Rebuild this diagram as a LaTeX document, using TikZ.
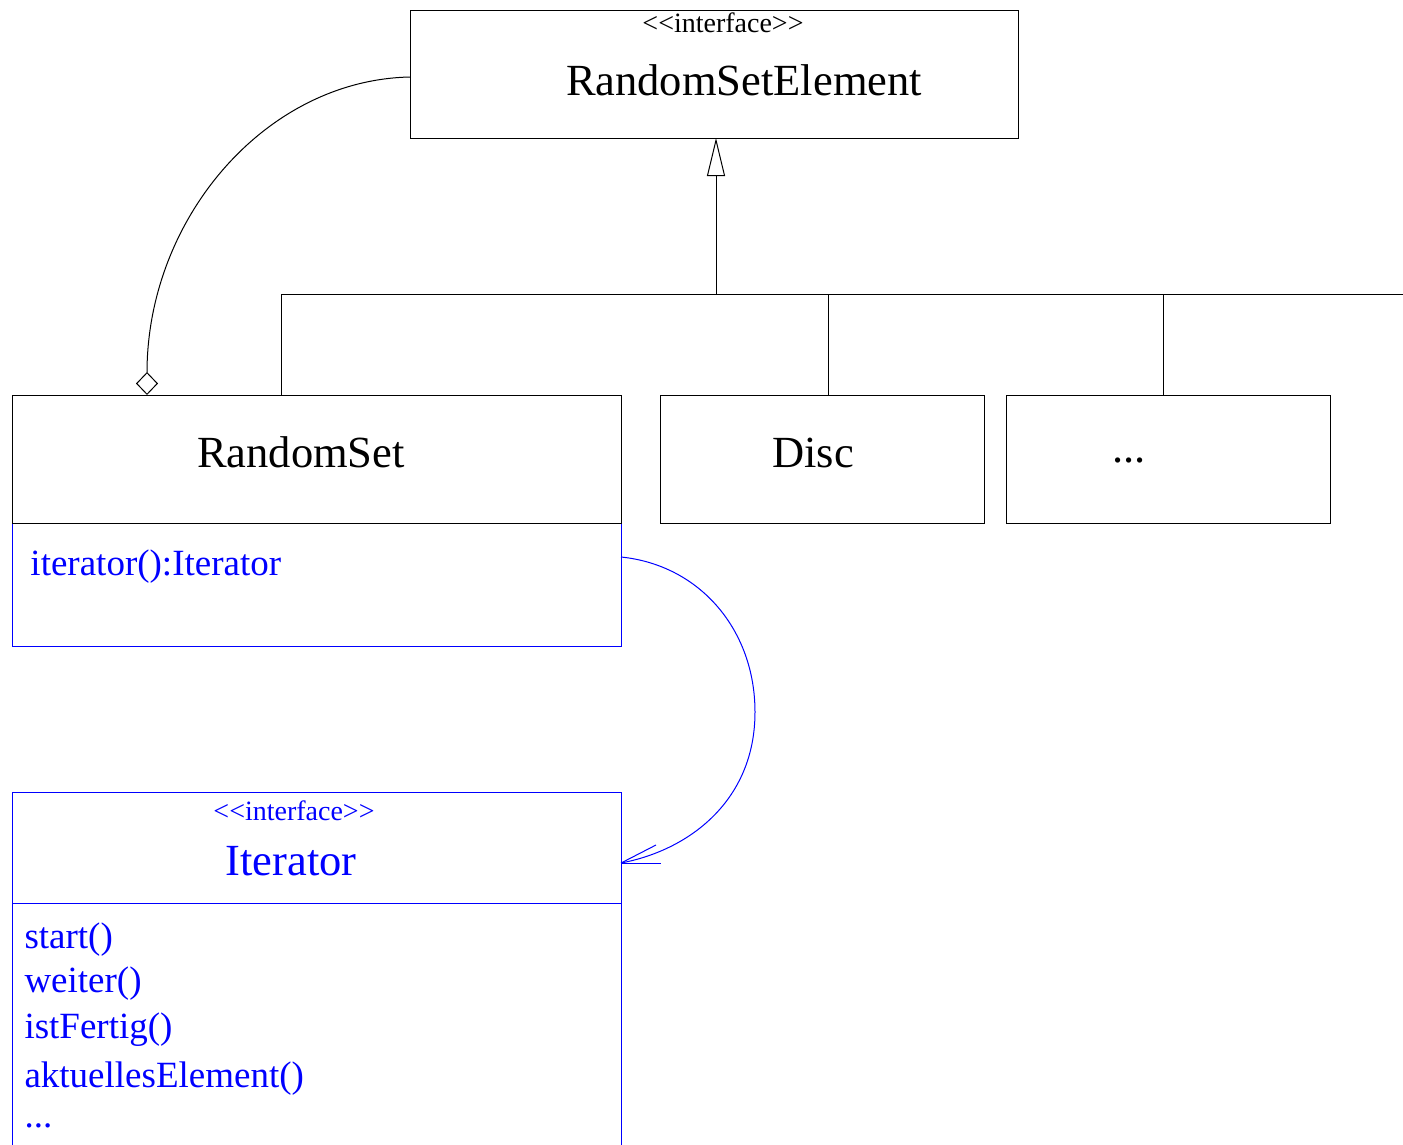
\documentclass[tikz,border=0pt]{standalone}
\usepackage{fontspec}
\setmainfont{Liberation Serif}
\usetikzlibrary{arrows.meta}
\definecolor{umlblue}{RGB}{0,0,255}
\begin{document}
\begin{tikzpicture}[x=1pt,y=-1pt,line width=1pt,
  box/.style={draw,inner sep=0pt,outer sep=0pt,anchor=north west},
  txt/.style={inner sep=0pt,anchor=base},
  ltxt/.style={inner sep=0pt,anchor=base west},
  big/.style={font=\fontsize{44.5}{50}\selectfont},
  small/.style={font=\fontsize{28}{32}\selectfont},
  mid/.style={font=\fontsize{37}{42}\selectfont},
  blue/.style={draw=umlblue,text=umlblue},
  gen/.style={-{Triangle[open,length=38pt,width=18pt]}},
  agg/.style={-{Diamond[open,length=23pt,width=22pt]}}
]
\clip (0,0) rectangle (1403,1144);
% boxes
\node[box,minimum width=608pt,minimum height=128pt] (rse) at (410,10) {};
\node[box,blue,minimum width=609pt,minimum height=123pt] (rsops) at (12,523) {};
\node[box,minimum width=609pt,minimum height=128pt] (rs) at (12,395) {};
\node[box,minimum width=324pt,minimum height=128pt] (disc) at (660,395) {};
\node[box,minimum width=324pt,minimum height=128pt] (more) at (1006,395) {};
\node[box,blue,minimum width=609pt,minimum height=400pt] (it) at (12,792) {};
\coordinate (itdivl) at (12,903);
\draw[umlblue] (itdivl) -- (itdivl -| it.east);
% texts
\node[txt,small] (rsest) at (723,32) {<{}<interface>{}>};
\node[txt,big] (rsename) at (744,95) {RandomSetElement};
\node[txt,big] (rsname) at (301,467) {RandomSet};
\node[txt,big] (discname) at (813,467) {Disc};
\node[txt,big] (morename) at (1129,462) {...};
\node[ltxt,mid,text=umlblue] (rsop) at (30,575) {iterator():Iterator};
\node[txt,small,text=umlblue] (itst) at (294,820) {<{}<interface>{}>};
\node[txt,big,text=umlblue] (itname) at (291,875) {Iterator};
\node[ltxt,mid,text=umlblue] (m1) at (24,948) {start()};
\node[ltxt,mid,text=umlblue] (m2) at (24,992) {weiter()};
\node[ltxt,mid,text=umlblue] (m3) at (24,1038) {istFertig()};
\node[ltxt,mid,text=umlblue] (m4) at (24,1087) {aktuellesElement()};
\node[ltxt,mid,text=umlblue] (m5) at (24,1127) {...};
% generalization tree
\coordinate (hub) at (716,294);
\coordinate (lft) at (281,294);
\coordinate (rgt) at (1420,294);
\draw (lft) -- (rgt);
\draw[gen] (hub) -- (hub |- rse.south);
\draw (lft) -- (lft |- rs.north);
\draw (disc.north -| 828,0) -- (828,294);
\draw (more.north -| 1163,0) -- (1163,294);
% aggregation
\coordinate (aggstart) at ([yshift=-67pt]rse.north west);
\coordinate (aggend) at (147,395);
\draw[agg] (aggstart) .. controls (265,80) and (147,219) .. (aggend);
% dependency to Iterator
\coordinate (depstart) at ([yshift=-34pt]rsops.north east);
\coordinate (deptip) at ([yshift=-71pt]it.north east);
\draw[umlblue] (depstart) .. controls (700,565) and (755,630) .. (755,712)
  .. controls (755,800) and (690,850) .. (deptip);
\draw[umlblue] (deptip) -- ++(40,0);
\draw[umlblue] (deptip) -- ++(35,-18);
\end{tikzpicture}
\end{document}
